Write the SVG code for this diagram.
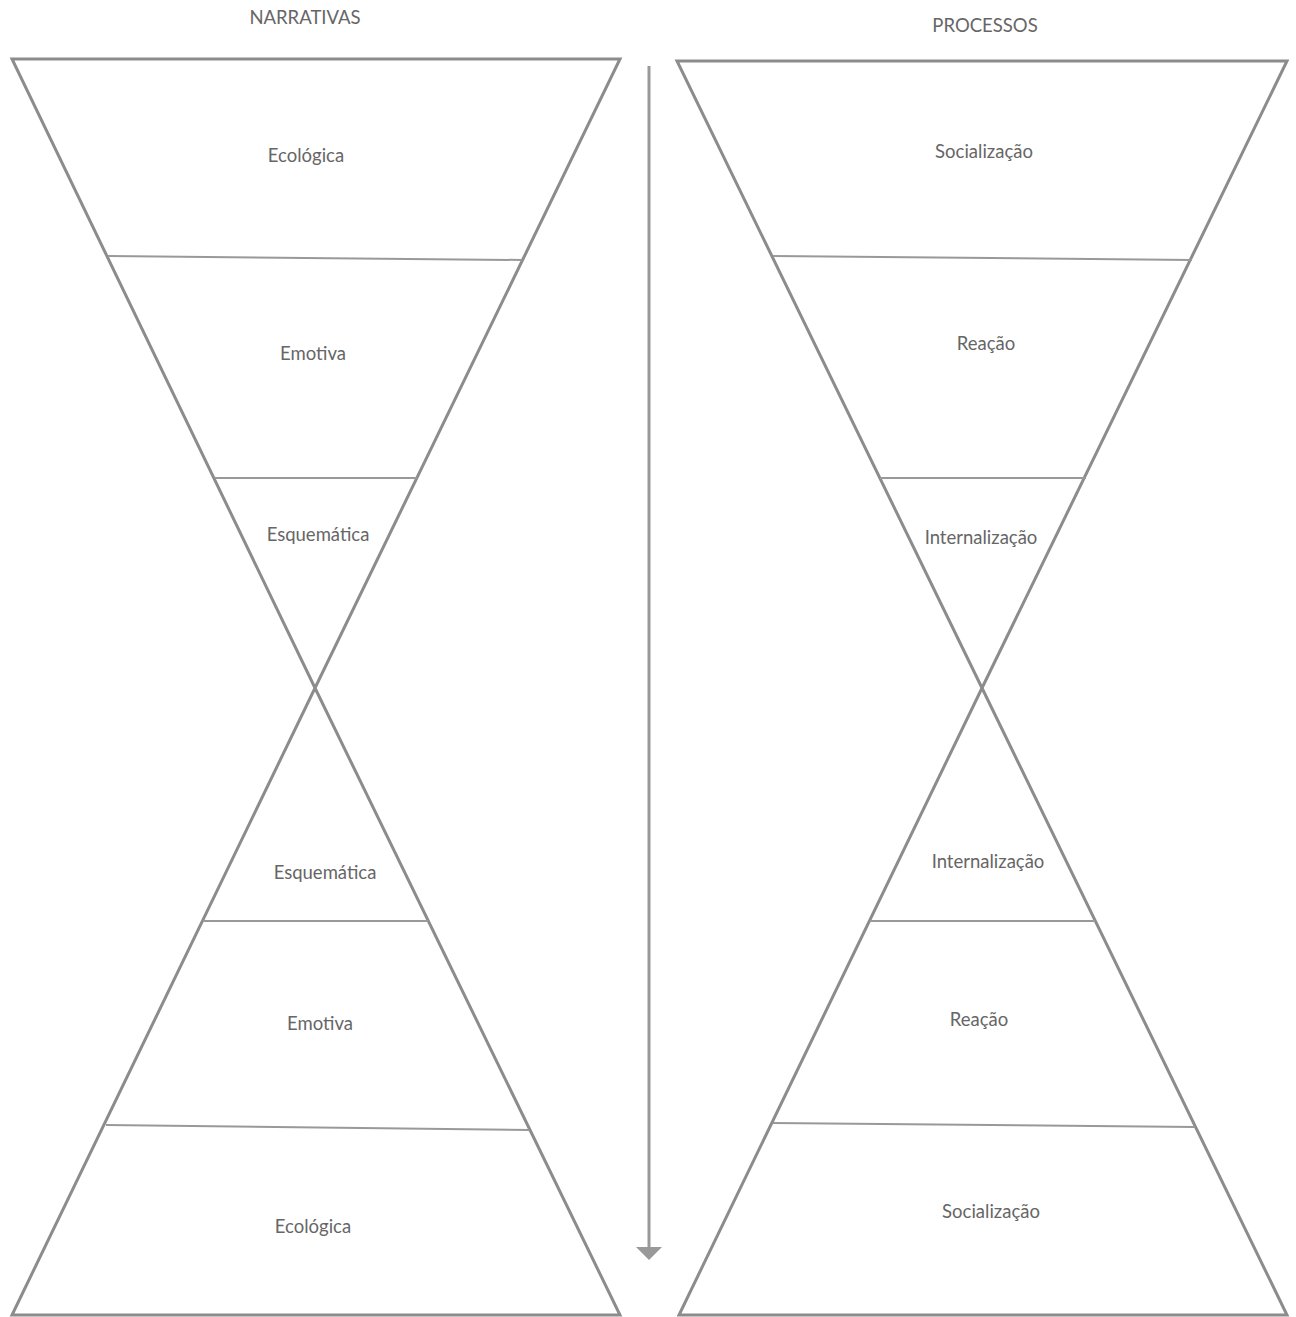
<svg xmlns="http://www.w3.org/2000/svg" width="1296" height="1317" viewBox="0 0 1296 1317">
<defs>
<style>
.out{fill:none;stroke:#8c8c8c;stroke-width:3;stroke-linejoin:miter}
.div{fill:none;stroke:#999;stroke-width:2}
.t{font-family:Lato,"Liberation Sans",sans-serif;font-size:18.5px;fill:#666;text-anchor:middle;dominant-baseline:central}
</style>
<marker id="ah" viewBox="0 0 14 26" refX="1" refY="13" markerWidth="14" markerHeight="26" markerUnits="userSpaceOnUse" orient="auto">
<path d="M0,0 L13,13 L0,26 Z" fill="#999"/>
</marker>
</defs>
<rect width="1296" height="1317" fill="#fff"/>
<text class="t" x="305" y="17">NARRATIVAS</text>
<text class="t" x="985" y="25">PROCESSOS</text>
<g id="narrativas-top">
<polygon class="out" points="12,59 620,59 315,688"/>
<line class="div" x1="108" y1="256" x2="522" y2="260"/>
<line class="div" x1="215" y1="478" x2="417" y2="478"/>
<text class="t" x="306" y="155">Ecológica</text>
<text class="t" x="313" y="353">Emotiva</text>
<text class="t" x="318" y="534">Esquemática</text>
</g>
<g id="narrativas-bottom">
<polygon class="out" points="315,688 620,1315 12,1315"/>
<line class="div" x1="203" y1="921" x2="428" y2="921"/>
<line class="div" x1="106" y1="1125" x2="529" y2="1130"/>
<text class="t" x="325" y="872">Esquemática</text>
<text class="t" x="320" y="1023">Emotiva</text>
<text class="t" x="313" y="1226">Ecológica</text>
</g>
<g id="processos-top">
<polygon class="out" points="677,61 1287,61 982,688"/>
<line class="div" x1="773" y1="256" x2="1192" y2="260"/>
<line class="div" x1="880" y1="478" x2="1086" y2="478"/>
<text class="t" x="984" y="151">Socialização</text>
<text class="t" x="986" y="343">Reação</text>
<text class="t" x="981" y="537">Internalização</text>
</g>
<g id="processos-bottom">
<polygon class="out" points="982,688 1287,1315 679,1315"/>
<line class="div" x1="870" y1="921" x2="1095" y2="921"/>
<line class="div" x1="773" y1="1123" x2="1195" y2="1127"/>
<text class="t" x="988" y="861">Internalização</text>
<text class="t" x="979" y="1019">Reação</text>
<text class="t" x="991" y="1211">Socialização</text>
</g>
<g id="connectors">
<line x1="649" y1="66" x2="649" y2="1248" stroke="#999" stroke-width="3" marker-end="url(#ah)"/>
</g>
</svg>
